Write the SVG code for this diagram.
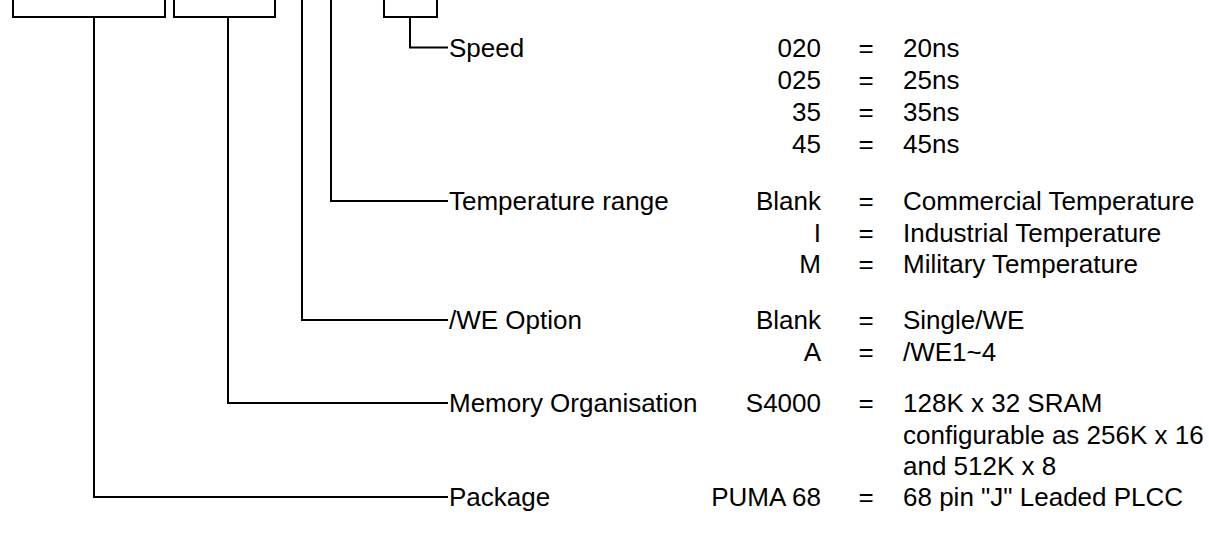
<svg xmlns="http://www.w3.org/2000/svg" width="1209" height="536" viewBox="0 0 1209 536">
<style>
.ln{fill:none;stroke:#000;stroke-width:2;stroke-linecap:square;stroke-linejoin:miter}
text{font-family:"Liberation Sans",Arial,sans-serif;font-size:26px;fill:#000}
.r{text-anchor:end}
.m{text-anchor:middle}
</style>
<rect width="1209" height="536" fill="#fff"/>
<g id="connectors">
<path class="ln" d="M13,0V17H165V0"/>
<path class="ln" d="M94,17V497H447"/>
<path class="ln" d="M174,0V17H275V0"/>
<path class="ln" d="M228,17V403H447"/>
<path class="ln" d="M302,0V320H447"/>
<path class="ln" d="M331,0V201H447"/>
<path class="ln" d="M384,0V17H437V0"/>
<path class="ln" d="M410,17V47.5H447"/>
</g>
<g id="speed">
<text x="449" y="57">Speed</text>
<text class="r" x="821" y="57">020</text><text class="m" x="866" y="57">=</text><text x="903" y="57">20ns</text>
<text class="r" x="821" y="89">025</text><text class="m" x="866" y="89">=</text><text x="903" y="89">25ns</text>
<text class="r" x="821" y="121">35</text><text class="m" x="866" y="121">=</text><text x="903" y="121">35ns</text>
<text class="r" x="821" y="153">45</text><text class="m" x="866" y="153">=</text><text x="903" y="153">45ns</text>
</g>
<g id="temperature">
<text x="449" y="210">Temperature range</text>
<text class="r" x="821" y="210">Blank</text><text class="m" x="866" y="210">=</text><text x="903" y="210">Commercial Temperature</text>
<text class="r" x="821" y="241.5">I</text><text class="m" x="866" y="241.5">=</text><text x="903" y="241.5">Industrial Temperature</text>
<text class="r" x="821" y="273">M</text><text class="m" x="866" y="273">=</text><text x="903" y="273">Military Temperature</text>
</g>
<g id="we-option">
<text x="449" y="329">/WE Option</text>
<text class="r" x="821" y="329">Blank</text><text class="m" x="866" y="329">=</text><text x="903" y="329">Single/WE</text>
<text class="r" x="821" y="360.5">A</text><text class="m" x="866" y="360.5">=</text><text x="903" y="360.5">/WE1~4</text>
</g>
<g id="memory">
<text x="449" y="412">Memory Organisation</text>
<text class="r" x="821" y="412">S4000</text><text class="m" x="866" y="412">=</text><text x="903" y="412">128K x 32 SRAM</text>
<text x="903" y="443.5">configurable as 256K x 16</text>
<text x="903" y="475">and 512K x 8</text>
</g>
<g id="package">
<text x="449" y="506">Package</text>
<text class="r" x="821" y="506">PUMA 68</text><text class="m" x="866" y="506">=</text><text x="903" y="506">68 pin "J" Leaded PLCC</text>
</g>
</svg>
